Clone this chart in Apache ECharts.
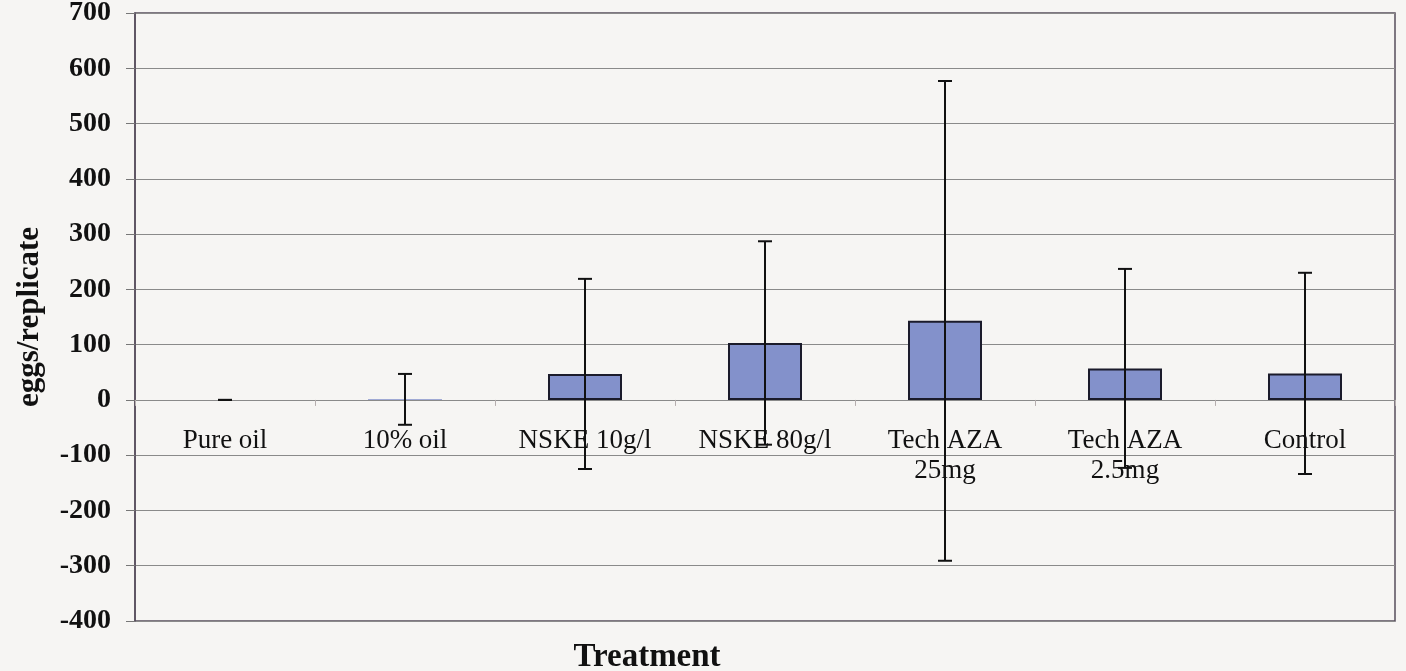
<!DOCTYPE html>
<html>
<head>
<meta charset="utf-8">
<script src="https://cdn.jsdelivr.net/npm/echarts@6/dist/echarts.min.js"></script>
<style>
  html, body { margin: 0; padding: 0; background: #f6f5f3; }
  #chart { width: 1406px; height: 671px; }
</style>
</head>
<body>
<div id="chart"></div>
<script>
  // treatments and values
  var categories = ['Pure oil', '10% oil', 'NSKE 10g/l', 'NSKE 80g/l', 'Tech AZA\n25mg', 'Tech AZA\n2.5mg', 'Control'];
  var eggs = [0, 1, 47, 103, 143, 57, 48];
  var errs = [0, 46, 172, 184, 434, 180, 182];
  var yTicks = [-400, -300, -200, -100, 0, 100, 200, 300, 400, 500, 600, 700];

  var serif = '"Liberation Serif", "DejaVu Serif", serif';

  var errData = categories.map(function (c, i) {
    return [i, eggs[i] - errs[i], eggs[i] + errs[i]];
  });
  var labelData = categories.map(function (c, i) { return [i, 0, c]; });

  var chart = echarts.init(document.getElementById('chart'));
  var option = {
    backgroundColor: '#f6f5f3',
    animation: false,
    grid: {
      left: 135, right: 11, top: 13, bottom: 50,
      outerBoundsMode: 'none',
      show: true, borderColor: '#574d5c', borderWidth: 1.5, backgroundColor: 'transparent'
    },
    xAxis: {
      type: 'category',
      data: categories,
      axisLine: { onZero: true, lineStyle: { color: '#8a8a8a', width: 1 } },
      axisTick: { show: true, length: 6, lineStyle: { color: '#b5aeae' } },
      axisLabel: { show: false },
      splitLine: { show: false }
    },
    yAxis: {
      type: 'value',
      min: yTicks[0],
      max: yTicks[yTicks.length - 1],
      interval: 100,
      name: 'eggs/replicate',
      nameLocation: 'middle',
      nameGap: 90,
      nameTextStyle: { fontFamily: serif, fontSize: 31, fontWeight: 'bold', color: '#111' },
      axisLine: { show: true, lineStyle: { color: '#574d5c', width: 1.5 } },
      axisTick: { show: true, length: 9, lineStyle: { color: '#777' } },
      axisLabel: { fontFamily: serif, fontSize: 28, fontWeight: 'bold', color: '#111', margin: 24 },
      splitLine: { show: true, lineStyle: { color: '#8a8a8a', width: 1 } }
    },
    graphic: [{
      type: 'text',
      x: 647,
      y: 657,
      style: { text: 'Treatment', font: 'bold 33px ' + serif, fill: '#111', align: 'center', verticalAlign: 'middle' }
    }],
    series: [{
      type: 'bar',
      data: eggs.map(function (v) {
        return v < 2 ? { value: v, itemStyle: { borderWidth: 0 } } : v;
      }),
      barWidth: 74,
      itemStyle: { color: '#8391cb', borderColor: '#1b1b2b', borderWidth: 2 },
      z: 3
    }, {
      // category labels sit just under the zero line, as in the original
      type: 'custom',
      data: labelData,
      z: 4,
      renderItem: function (params, api) {
        var p = api.coord([api.value(0), 0]);
        return {
          type: 'text',
          x: p[0],
          y: p[1] + 26,
          style: {
            text: categories[params.dataIndex],
            font: '27px ' + serif,
            fill: '#111',
            align: 'center',
            verticalAlign: 'top',
            lineHeight: 30
          }
        };
      }
    }, {
      type: 'custom',
      data: errData,
      z: 5,
      renderItem: function (params, api) {
        var x = api.value(0);
        var lo = api.coord([x, api.value(1)]);
        var hi = api.coord([x, api.value(2)]);
        var cap = 7;
        var style = { stroke: '#111', lineWidth: 2 };
        return {
          type: 'group',
          children: [
            { type: 'line', shape: { x1: hi[0], y1: hi[1], x2: lo[0], y2: lo[1] }, style: style },
            { type: 'line', shape: { x1: hi[0] - cap, y1: hi[1], x2: hi[0] + cap, y2: hi[1] }, style: style },
            { type: 'line', shape: { x1: lo[0] - cap, y1: lo[1], x2: lo[0] + cap, y2: lo[1] }, style: style }
          ]
        };
      }
    }]
  };
  chart.setOption(option);
</script>
</body>
</html>
